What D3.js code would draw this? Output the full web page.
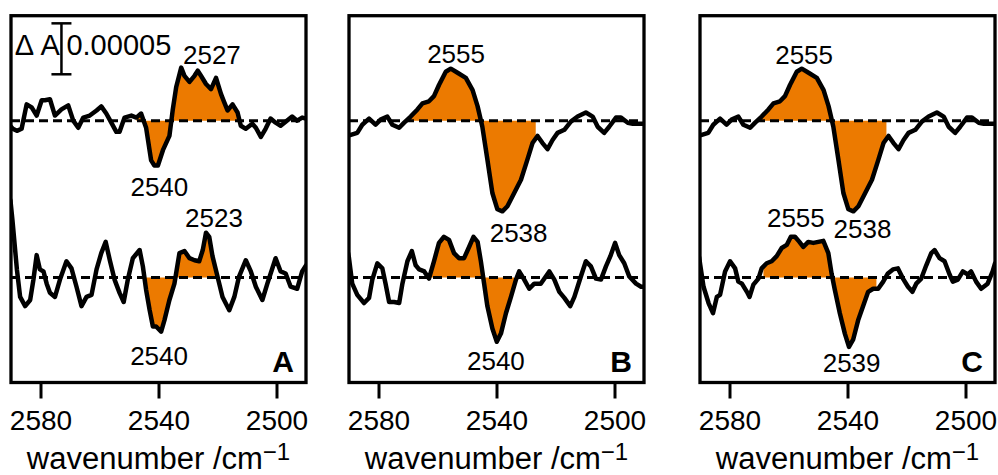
<!DOCTYPE html>
<html>
<head>
<meta charset="utf-8">
<script src="https://cdn.jsdelivr.net/npm/d3@7"></script>
<style>
body { margin: 0; background: #fff; }
svg { display: block; font-family: "Liberation Sans", Arial, Helvetica, sans-serif; }
</style>
</head>
<body>
<div class="vis-spectra"></div>
<script>
// difference spectra, values are ΔA in units of 1e-5, [wavenumber, ΔA]
const xTicks = [2580, 2540, 2500];
const panelNames = ['A', 'B', 'C'];
const xLabel = 'wavenumber /cm';
const scaleBarText = ['Δ A', '0.00005'];
const scaleBarSize = 5; // 0.00005

const specATop = [[2590.0,-0.6],[2589.4,-0.8],[2588.0,-1.0],[2586.4,-0.8],[2584.7,1.6],[2583.0,1.3],[2581.3,0.5],[2579.6,2.0],[2578.5,2.0],[2576.8,2.1],[2575.1,0.5],[2572.9,1.1],[2570.6,1.5],[2568.9,0.0],[2567.2,-0.7],[2565.5,0.3],[2563.3,0.5],[2561.0,1.0],[2559.4,1.4],[2557.7,0.7],[2556.0,-0.2],[2554.3,-1.1],[2553.2,-1.1],[2551.5,0.3],[2549.2,0.5],[2547.5,0.3],[2545.9,0.7],[2544.2,-0.7],[2542.5,-3.9],[2541.4,-4.4],[2540.2,-4.4],[2538.5,-2.9],[2536.3,-1.5],[2535.2,1.0],[2534.0,3.3],[2532.3,5.2],[2531.2,4.4],[2529.5,3.8],[2527.8,4.4],[2526.7,4.9],[2525.6,4.4],[2523.9,3.6],[2522.2,3.1],[2520.5,4.2],[2518.8,2.6],[2517.7,1.8],[2516.6,1.0],[2514.9,1.6],[2513.2,0.8],[2512.1,-0.5],[2510.4,-0.8],[2508.2,-0.3],[2507.0,-0.7],[2505.3,-1.6],[2503.7,-0.8],[2502.0,0.2],[2500.3,-0.2],[2498.6,-0.5],[2496.9,-0.1],[2494.7,0.4],[2493.0,0.0],[2491.3,0.3],[2490.0,0.2]];
const specABottom = [[2590.2,7.6],[2589.5,5.6],[2588.0,0.8],[2586.9,-1.9],[2585.2,-2.8],[2583.5,-2.2],[2582.4,-0.2],[2581.3,2.2],[2580.2,0.8],[2579.0,0.6],[2577.9,-0.6],[2576.8,-1.5],[2575.1,-1.9],[2573.4,-0.2],[2571.2,1.6],[2569.5,0.9],[2567.8,-0.9],[2566.1,-2.8],[2564.4,-1.9],[2562.7,-1.7],[2561.0,0.8],[2559.4,2.4],[2557.9,3.5],[2556.5,1.7],[2554.9,-0.2],[2553.2,-1.5],[2551.8,-2.4],[2550.4,-0.2],[2548.7,1.9],[2546.4,2.7],[2545.3,1.1],[2544.2,-1.2],[2543.0,-3.2],[2541.9,-4.8],[2540.8,-4.8],[2539.1,-5.3],[2538.0,-4.2],[2536.3,-2.2],[2534.6,-0.6],[2532.9,2.4],[2531.2,2.6],[2529.5,1.9],[2527.8,1.7],[2526.2,1.6],[2525.0,2.7],[2523.9,4.4],[2522.8,4.0],[2521.7,2.1],[2520.0,0.1],[2518.3,-1.9],[2516.0,-3.2],[2514.3,-1.9],[2512.7,0.1],[2510.4,1.7],[2508.7,0.6],[2507.0,-0.9],[2504.8,-2.2],[2503.1,-0.6],[2500.3,1.9],[2498.6,0.6],[2496.9,0.4],[2495.2,-0.9],[2493.0,-1.1],[2491.3,0.6],[2490.0,1.2]];
const specBTop = [[2590.5,-1.4],[2589.4,-1.4],[2587.2,-1.2],[2585.5,-0.4],[2583.2,0.2],[2581.0,-0.4],[2579.3,0.1],[2577.0,0.4],[2575.3,-0.4],[2573.0,-0.7],[2571.3,-0.2],[2569.1,0.4],[2566.8,1.1],[2565.1,1.7],[2562.9,1.9],[2561.2,2.4],[2559.5,3.5],[2557.2,4.8],[2555.5,5.1],[2553.2,4.7],[2550.4,4.2],[2548.1,3.0],[2546.4,1.4],[2544.8,-0.6],[2543.1,-3.8],[2541.4,-7.1],[2539.7,-8.7],[2538.0,-8.9],[2536.3,-8.4],[2534.0,-7.1],[2531.7,-5.8],[2529.5,-3.8],[2527.8,-2.2],[2526.1,-1.5],[2524.4,-2.2],[2522.7,-2.8],[2521.0,-1.9],[2519.3,-1.2],[2517.0,-0.9],[2514.8,-0.1],[2512.5,0.4],[2509.7,0.8],[2507.4,0.4],[2505.7,-0.6],[2503.5,-1.2],[2501.8,-0.6],[2499.5,0.3],[2497.8,0.3],[2495.5,-0.2],[2493.8,-0.3],[2491.0,-0.3],[2490.0,-0.3]];
const specBBottom = [[2590.3,2.4],[2590.0,1.9],[2588.9,-0.6],[2587.2,-1.7],[2584.9,-2.5],[2583.2,-2.0],[2582.1,-0.2],[2580.4,1.4],[2578.7,0.9],[2577.6,-0.6],[2576.4,-2.4],[2574.7,-2.4],[2573.0,-2.5],[2571.9,-0.6],[2570.2,1.6],[2568.7,2.6],[2567.4,1.2],[2566.2,0.8],[2564.5,0.6],[2562.9,-0.1],[2561.2,1.6],[2559.5,3.4],[2557.8,4.0],[2556.1,3.7],[2554.4,2.4],[2552.7,1.9],[2551.0,1.9],[2549.3,3.0],[2547.8,4.0],[2546.4,3.5],[2545.3,1.6],[2544.2,-0.6],[2543.1,-2.8],[2541.4,-5.0],[2539.9,-6.3],[2538.5,-5.5],[2536.8,-3.5],[2535.1,-1.9],[2533.4,-0.2],[2532.3,0.6],[2530.6,-0.2],[2528.9,-1.1],[2527.2,-0.6],[2525.0,-0.6],[2522.1,0.6],[2520.4,-0.2],[2518.7,-1.4],[2517.0,-2.0],[2515.0,-2.8],[2513.6,-1.9],[2511.4,0.1],[2509.7,1.6],[2508.0,1.1],[2506.3,-0.1],[2504.6,-0.2],[2502.9,1.1],[2501.4,2.1],[2499.8,3.4],[2498.4,2.2],[2496.7,1.4],[2495.0,0.1],[2492.7,-0.6],[2491.0,-0.9],[2490.0,-0.9]];
// the upper trace in C is the same spectrum as in B
const specCTop = specBTop;
const specCBottom = [[2590.3,2.0],[2589.9,1.2],[2588.8,-0.9],[2587.1,-2.5],[2585.6,-3.5],[2584.3,-1.9],[2583.2,-1.7],[2581.5,0.6],[2579.8,1.6],[2578.1,0.9],[2577.0,-0.4],[2575.8,-0.6],[2574.1,-1.4],[2573.2,-1.9],[2571.9,-0.7],[2570.2,-0.1],[2569.1,0.9],[2567.4,1.4],[2565.7,1.6],[2564.0,2.1],[2562.3,2.9],[2560.6,3.2],[2559.2,4.0],[2557.8,4.0],[2556.3,3.5],[2555.0,3.0],[2553.3,3.5],[2551.6,3.4],[2549.9,3.5],[2548.2,3.6],[2546.5,2.4],[2545.4,0.4],[2544.3,-1.2],[2542.6,-3.5],[2540.9,-5.5],[2539.5,-6.8],[2538.1,-6.1],[2536.4,-4.2],[2534.7,-2.8],[2533.0,-1.4],[2531.3,-1.1],[2529.6,-1.1],[2527.9,-0.4],[2526.3,0.4],[2524.6,0.8],[2522.9,0.9],[2521.2,-0.1],[2519.5,-0.9],[2518.0,-1.4],[2516.7,-0.6],[2515.0,-0.1],[2513.3,1.2],[2511.6,2.4],[2510.5,2.7],[2508.8,1.9],[2507.1,1.6],[2505.4,0.3],[2504.3,-0.4],[2502.6,-0.2],[2500.9,0.6],[2499.2,0.3],[2498.1,0.6],[2496.4,-0.4],[2494.7,-1.1],[2492.5,-0.6],[2490.8,0.6],[2490.0,1.4]];

// wavenumber ranges that are shaded, [from, to]
const fillATop = [2547.5, 2513.2];
const fillABottom = [2544.2, 2520.6];
const fillBTop = [2569.6, 2526.7];
const fillBBottom = [2562.3, 2534.0];
const fillCTop = [2569.6, 2526.8];
const fillCBottom = [2568.5, 2530.2];

// vertical offset of the two traces (units of 1e-5)
const traceOffsets = [0, -15.4];

// peak labels: text, wavenumber, ΔA relative to the trace baseline, trace index
const labelsA = [['2527', 2521.9, 5.6, 0], ['2540', 2539.7, -7.4, 0], ['2523', 2521.2, 5.0, 1], ['2540', 2539.8, -8.6, 1]];
const labelsB = [['2555', 2553.7, 5.7, 0], ['2538', 2532.5, -11.9, 0], ['2540', 2540.2, -9.05, 1]];
const labelsC = [['2555', 2554.7, 5.6, 0], ['2538', 2534.9, -11.5, 0], ['2555', 2557.5, 5.0, 1], ['2539', 2538.6, -9.3, 1]];

const panels = [
    {name: panelNames[0], specs: [specATop, specABottom], fills: [fillATop, fillABottom], labels: labelsA},
    {name: panelNames[1], specs: [specBTop, specBBottom], fills: [fillBTop, fillBBottom], labels: labelsB},
    {name: panelNames[2], specs: [specCTop, specCBottom], fills: [fillCTop, fillCBottom], labels: labelsC}
];

const width = 998, height = 475;
const frameTop = 15.7, frameBottom = 382.5, panelWidth = 295;
const panelLeft = [11, 349, 700];
const orange = '#ec7a00';

const svg = d3.select('.vis-spectra').append('svg')
    .attr('width', width)
    .attr('height', height);

const y = d3.scaleLinear()
    .domain([-25.7, 10.3])
    .range([frameBottom, frameTop]);

// value of a spectrum at wavenumber w (linear between read points)
const valueAt = (spec, w) => {
    for (let i = 0; i < spec.length - 1; i++) {
        const a = spec[i], b = spec[i + 1];
        if (w <= a[0] && w >= b[0]) {
            const t = (a[0] - w) / (a[0] - b[0]);
            return a[1] + t * (b[1] - a[1]);
        }
    }
    return 0;
};

const fillPoints = (spec, range) => {
    const hi = Math.max(range[0], range[1]), lo = Math.min(range[0], range[1]);
    const pts = [[hi, valueAt(spec, hi)]];
    spec.forEach(p => { if (p[0] < hi && p[0] > lo) pts.push(p); });
    pts.push([lo, valueAt(spec, lo)]);
    return pts;
};

panels.forEach((p, i) => {
    const left = panelLeft[i];
    const x = d3.scaleLinear()
        .domain([2590, 2490])
        .range([left, left + panelWidth]);

    const clipId = 'clip' + i;
    svg.append('clipPath').attr('id', clipId)
        .append('rect')
        .attr('x', left).attr('y', frameTop)
        .attr('width', panelWidth).attr('height', frameBottom - frameTop);

    const g = svg.append('g').attr('clip-path', 'url(#' + clipId + ')');

    p.specs.forEach((spec, k) => {
        const off = traceOffsets[k];

        // shaded area between trace and baseline
        const area = d3.area()
            .x(d => x(d[0]))
            .y0(y(off))
            .y1(d => y(d[1] + off));
        g.append('path')
            .datum(fillPoints(spec, p.fills[k]))
            .attr('d', area)
            .attr('fill', orange);

        // dashed zero line
        g.append('line')
            .attr('x1', left).attr('x2', left + panelWidth)
            .attr('y1', y(off)).attr('y2', y(off))
            .attr('stroke', '#000')
            .attr('stroke-width', 3)
            .attr('stroke-dasharray', '9,5');

        const line = d3.line()
            .x(d => x(d[0]))
            .y(d => y(d[1] + off));
        g.append('path')
            .datum(spec)
            .attr('d', line)
            .attr('fill', 'none')
            .attr('stroke', '#000')
            .attr('stroke-width', 4.5)
            .attr('stroke-linejoin', 'round')
            .attr('stroke-linecap', 'round');
    });

    // peak labels
    svg.selectAll('.peak' + i)
        .data(p.labels)
        .enter().append('text')
        .attr('class', 'peak' + i)
        .attr('x', d => x(d[1]))
        .attr('y', d => y(d[2] + traceOffsets[d[3]]))
        .attr('text-anchor', 'middle')
        .attr('font-size', 26)
        .text(d => d[0]);

    // panel letter
    svg.append('text')
        .attr('x', left + panelWidth - 12)
        .attr('y', 372)
        .attr('text-anchor', 'end')
        .attr('font-size', 30)
        .attr('font-weight', 'bold')
        .text(p.name);

    // frame
    svg.append('rect')
        .attr('x', left).attr('y', frameTop)
        .attr('width', panelWidth).attr('height', frameBottom - frameTop)
        .attr('fill', 'none')
        .attr('stroke', '#000')
        .attr('stroke-width', 3.3);

    // x axis
    const ax = svg.append('g')
        .attr('transform', 'translate(0,' + frameBottom + ')')
        .call(d3.axisBottom(x).tickValues(xTicks).tickSize(16).tickPadding(11.5).tickFormat(d3.format('d')));
    ax.select('.domain').remove();
    ax.selectAll('.tick line').attr('stroke-width', 3).attr('stroke', '#000');
    ax.selectAll('.tick text')
        .attr('font-size', 28)
        .attr('font-family', '"Liberation Sans", Arial, sans-serif')
        .attr('fill', '#000');

    const lab = svg.append('text')
        .attr('x', left + panelWidth / 2)
        .attr('y', 469)
        .attr('text-anchor', 'middle')
        .attr('font-size', 31);
    lab.append('tspan').text(xLabel);
    lab.append('tspan').attr('dy', -9).attr('font-size', 24).text('−1');

    // scale bar in panel A
    if (i === 0) {
        const bx = x(2572.9);
        const y0 = y(4.55), y1 = y(4.55 + scaleBarSize);
        const bar = svg.append('g').attr('stroke', '#000').attr('stroke-width', 2.5);
        bar.append('line').attr('x1', bx).attr('x2', bx).attr('y1', y0).attr('y2', y1);
        bar.append('line').attr('x1', bx - 10).attr('x2', bx + 10).attr('y1', y0).attr('y2', y0);
        bar.append('line').attr('x1', bx - 10).attr('x2', bx + 10).attr('y1', y1).attr('y2', y1);
        svg.append('text')
            .attr('x', bx - 1.5).attr('y', y(6.4))
            .attr('text-anchor', 'end')
            .attr('font-size', 29)
            .text(scaleBarText[0]);
        svg.append('text')
            .attr('x', bx + 5).attr('y', y(6.4))
            .attr('font-size', 29)
            .text(scaleBarText[1]);
    }
});
</script>
</body>
</html>
